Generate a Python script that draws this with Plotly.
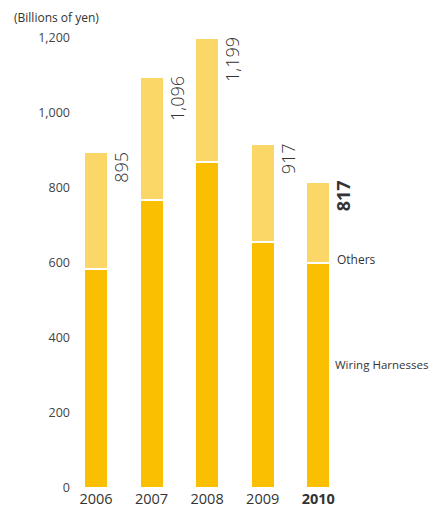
import plotly.graph_objects as go

# Net sales by fiscal year, billions of yen
years = ["2006", "2007", "2008", "2009", "2010"]
totals = [895, 1096, 1199, 917, 817]
wiring_harnesses = [585, 768, 869, 657, 599]
others = [t - w for t, w in zip(totals, wiring_harnesses)]
total_labels = ["895", "1,096", "1,199", "917", "817"]
y_ticks = [0, 200, 400, 600, 800, 1000, 1200]
y_tick_labels = ["0", "200", "400", "600", "800", "1,000", "1,200"]

DARK = "#F9BF00"
LIGHT = "#FBD768"
TEXT = "#333333"
FONT = "Open Sans"

x = list(range(len(years)))
bar_w = 0.43

fig = go.Figure()
fig.add_trace(go.Bar(
    x=x, y=wiring_harnesses, width=bar_w, name="Wiring Harnesses",
    marker=dict(color=DARK, line=dict(color="white", width=2)),
    hoverinfo="skip",
))
fig.add_trace(go.Bar(
    x=x, y=others, width=bar_w, name="Others",
    marker=dict(color=LIGHT, line=dict(color="white", width=2)),
    hoverinfo="skip",
))

# Rotated totals beside each bar
for i, (t, lab) in enumerate(zip(totals, total_labels)):
    last = i == len(years) - 1
    fig.add_annotation(
        x=i + bar_w / 2, y=t, xref="x", yref="y",
        text=f"<b>{lab}</b>" if last else lab,
        textangle=-90, showarrow=False,
        xanchor="left", yanchor="top", xshift=-1, yshift=3,
        font=dict(family=FONT, size=18, color=TEXT, weight=600 if last else 300),
    )

# Segment names next to the last bar
li = len(years) - 1
fig.add_annotation(
    x=li + bar_w / 2, y=wiring_harnesses[li] + 10, xref="x", yref="y",
    text="Others", showarrow=False, xanchor="left", yanchor="middle", xshift=5,
    font=dict(family=FONT, size=12, color=TEXT),
)
fig.add_annotation(
    x=li + bar_w / 2, y=wiring_harnesses[li] / 2 + 30, xref="x", yref="y",
    text="Wiring Harnesses", showarrow=False, xanchor="left", yanchor="middle", xshift=3,
    font=dict(family=FONT, size=11.5, color=TEXT),
)

# Unit caption above the value axis
fig.add_annotation(
    x=0, y=1, xref="paper", yref="paper", text="(Billions of yen)",
    showarrow=False, xanchor="left", yanchor="middle", xshift=-63, yshift=21,
    font=dict(family=FONT, size=12, color=TEXT),
)

fig.update_layout(
    barmode="stack",
    width=431, height=506,
    margin=dict(l=75, r=0, t=38, b=18),
    paper_bgcolor="white", plot_bgcolor="white",
    showlegend=False,
    font=dict(family=FONT, color=TEXT),
    xaxis=dict(
        range=[-0.378, 6.03], tickmode="array", tickvals=x,
        ticktext=years[:-1] + [f"<b>{years[-1]}</b>"],
        showgrid=False, zeroline=False, showline=False, ticks="",
        ticklabelstandoff=0, automargin=False,
        tickfont=dict(family=FONT, size=14.5, color=TEXT),
    ),
    yaxis=dict(
        range=[0, 1200], tickmode="array", tickvals=y_ticks, ticktext=y_tick_labels,
        showgrid=False, zeroline=False, showline=False, ticks="",
        ticklabelstandoff=4, automargin=False,
        tickfont=dict(family=FONT, size=12.5, color="#444444"),
    ),
)

fig.write_html("out.html")
